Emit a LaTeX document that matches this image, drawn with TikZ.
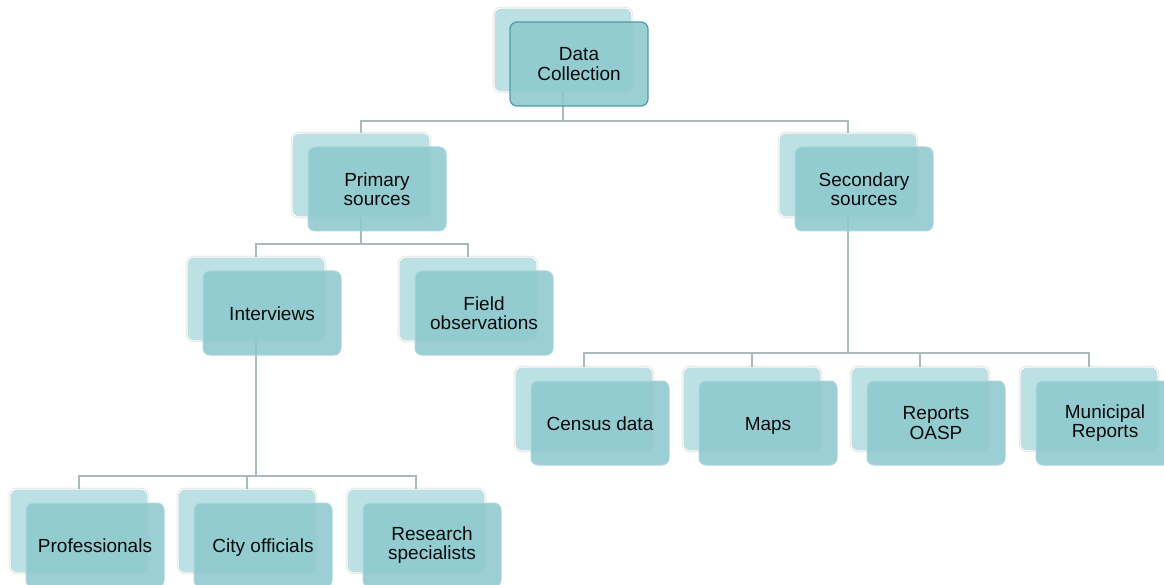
\documentclass[tikz,border=0pt]{standalone}
\usepackage{fontspec}
\setmainfont{Liberation Sans}
\begin{document}
\begin{tikzpicture}[x=1pt,y=-1pt,
  backcard/.style={rectangle, rounded corners=7pt, minimum width=138pt, minimum height=84pt,
    fill=cardlight, draw=cardedge, line width=0.5pt, double=white, double distance=1.2pt},
  frontcard/.style={rectangle, rounded corners=7pt, minimum width=138pt, minimum height=84pt,
    fill=cardmid, fill opacity=0.88, draw=cardrim, line width=1pt, text opacity=1,
    align=center, text=textdark, font=\fontsize{19}{19.5}\selectfont, inner sep=2pt},
  oneline/.style={text height=16pt, text depth=1.4pt},
  rootcard/.style={frontcard, draw=rootrim, line width=1.2pt},
  conn/.style={draw=linkgray, line width=1.8pt}]
\definecolor{cardlight}{HTML}{BBE1E4}
\definecolor{cardedge}{HTML}{CBD3D5}
\definecolor{cardmid}{HTML}{8DC8CE}
\definecolor{cardrim}{HTML}{A9D7DB}
\definecolor{rootrim}{HTML}{4E9DA4}
\definecolor{linkgray}{HTML}{AAB9BC}
\definecolor{textdark}{HTML}{0A0A0A}
\useasboundingbox (0,0) rectangle (1164,585);

% back cards
\node[backcard] (dc-b) at (563,50) {};
\node[backcard] (pr-b) at (361,175) {};
\node[backcard] (se-b) at (848,175) {};
\node[backcard] (iv-b) at (256,299) {};
\node[backcard] (fo-b) at (468,299) {};
\node[backcard] (cd-b) at (584,409) {};
\node[backcard] (mp-b) at (752,409) {};
\node[backcard] (ro-b) at (920,409) {};
\node[backcard] (mr-b) at (1089,409) {};
\node[backcard] (pf-b) at (79,531) {};
\node[backcard] (co-b) at (247,531) {};
\node[backcard] (rs-b) at (416,531) {};

% connectors
\draw[conn] (dc-b.south) |- ([yshift=12pt]pr-b.north) -- (pr-b.north);
\draw[conn] (dc-b.south) |- ([yshift=12pt]se-b.north) -- (se-b.north);
\draw[conn] (pr-b.south) |- ([yshift=13pt]iv-b.north) -- (iv-b.north);
\draw[conn] (pr-b.south) |- ([yshift=13pt]fo-b.north) -- (fo-b.north);
\draw[conn] (se-b.south) |- ([yshift=14pt]cd-b.north) -- (cd-b.north);
\draw[conn] (se-b.south) |- ([yshift=14pt]mp-b.north) -- (mp-b.north);
\draw[conn] (se-b.south) |- ([yshift=14pt]ro-b.north) -- (ro-b.north);
\draw[conn] (se-b.south) |- ([yshift=14pt]mr-b.north) -- (mr-b.north);
\draw[conn] (iv-b.south) |- ([yshift=13pt]pf-b.north) -- (pf-b.north);
\draw[conn] (iv-b.south) |- ([yshift=13pt]co-b.north) -- (co-b.north);
\draw[conn] (iv-b.south) |- ([yshift=13pt]rs-b.north) -- (rs-b.north);

% front cards
\node[rootcard]  (dc) at ([shift={(16,14)}]dc-b.center) {Data\\Collection};
\node[frontcard] (pr) at ([shift={(16,14)}]pr-b.center) {Primary\\sources};
\node[frontcard] (se) at ([shift={(16,14)}]se-b.center) {Secondary\\sources};
\node[frontcard,oneline] (iv) at ([shift={(16,14)}]iv-b.center) {Interviews};
\node[frontcard] (fo) at ([shift={(16,14)}]fo-b.center) {Field\\observations};
\node[frontcard,oneline] (cd) at ([shift={(16,14)}]cd-b.center) {Census data};
\node[frontcard,oneline] (mp) at ([shift={(16,14)}]mp-b.center) {Maps};
\node[frontcard] (ro) at ([shift={(16,14)}]ro-b.center) {Reports\\OASP};
\node[frontcard] (mr) at ([shift={(16,14)}]mr-b.center) {Municipal\\Reports};
\node[frontcard,oneline] (pf) at ([shift={(16,14)}]pf-b.center) {Professionals};
\node[frontcard,oneline] (co) at ([shift={(16,14)}]co-b.center) {City officials};
\node[frontcard] (rs) at ([shift={(16,14)}]rs-b.center) {Research\\specialists};
\end{tikzpicture}
\end{document}
